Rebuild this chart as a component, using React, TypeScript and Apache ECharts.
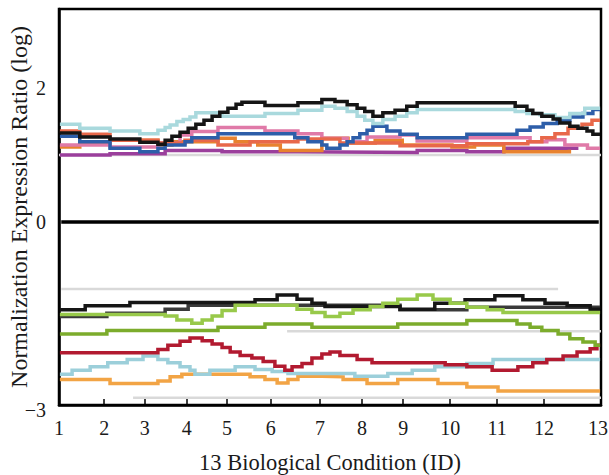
import React, { useEffect, useRef } from 'react';
import * as echarts from 'echarts';

// x axis: 13 biological conditions; ticks sit at slightly irregular places in the source figure
const conditionLabels = ['1', '2', '3', '4', '5', '6', '7', '8', '9', '10', '11', '12', '13'];
const conditionTickAt = [1, 2.0, 2.9, 3.83, 4.72, 5.69, 6.78, 7.71, 8.62, 9.66, 10.7, 11.74, 13];

// y axis labels (the bottom edge of the frame carries the −3 label in the source)
const yLabelValues = [-2.73, 0, 2];
const yLabelText = ['−3', '0', '2'];

type Pt = [number, number];

// ---- up-regulated cluster ----
const upperGray: Pt[] = [[1.0, 1.0], [13, 1.0]];
const upperPurple: Pt[] = [[1.02, 1.0], [2.13, 1.02], [3.35, 1.07], [4.61, 1.05], [6.29, 1.04], [8.93, 1.07], [10.03, 1.05], [10.85, 1.1], [12.5, 1.1]];
const upperOrange: Pt[] = [[1.02, 1.12], [1.46, 1.18], [2.13, 1.22], [3.19, 1.15], [3.5, 1.2], [4.52, 1.25], [4.9, 1.2], [5.4, 1.15], [5.9, 1.07], [6.82, 1.25], [7.4, 1.18], [8.0, 1.22], [8.6, 1.15], [9.7, 1.12], [10.2, 1.15], [10.85, 1.05], [12.3, 1.08]];
const upperPink: Pt[] = [[1.02, 1.15], [2.13, 1.12], [3.19, 1.18], [3.68, 1.3], [3.94, 1.35], [4.52, 1.41], [5.56, 1.36], [6.29, 1.32], [6.82, 1.25], [7.38, 1.2], [7.82, 1.27], [8.55, 1.3], [8.93, 1.21], [10.03, 1.26], [11.43, 1.2], [11.8, 1.23], [12.2, 1.15], [12.7, 1.1], [12.98, 1.1]];
const upperCoral: Pt[] = [[1.02, 1.36], [1.46, 1.31], [2.13, 1.22], [3.19, 1.18], [3.79, 1.22], [4.52, 1.15], [5.23, 1.2], [6.29, 1.24], [7.22, 1.18], [8.55, 1.14], [10.03, 1.17], [11.38, 1.2], [11.69, 1.26], [11.98, 1.32], [12.27, 1.4], [12.58, 1.46], [12.8, 1.52], [12.98, 1.52]];
const upperBlue: Pt[] = [[1.02, 1.28], [1.46, 1.2], [2.13, 1.1], [2.79, 1.05], [3.19, 1.1], [3.35, 1.15], [3.79, 1.2], [3.94, 1.26], [4.52, 1.32], [6.22, 1.26], [6.51, 1.2], [6.82, 1.15], [6.93, 1.1], [7.22, 1.15], [7.38, 1.2], [7.51, 1.26], [7.66, 1.32], [7.82, 1.37], [7.95, 1.43], [8.26, 1.36], [8.55, 1.31], [8.93, 1.26], [10.03, 1.31], [11.14, 1.37], [11.43, 1.42], [11.72, 1.47], [12.03, 1.52], [12.31, 1.57], [12.6, 1.62], [12.82, 1.68], [12.98, 1.68]];
const upperCyan: Pt[] = [[1.02, 1.46], [1.46, 1.4], [2.13, 1.36], [2.79, 1.32], [3.19, 1.37], [3.35, 1.41], [3.46, 1.45], [3.61, 1.5], [3.75, 1.53], [3.9, 1.57], [4.03, 1.63], [4.61, 1.58], [5.56, 1.62], [6.29, 1.67], [6.82, 1.73], [7.11, 1.7], [7.38, 1.65], [7.6, 1.58], [7.77, 1.52], [7.95, 1.47], [8.17, 1.53], [8.44, 1.58], [8.7, 1.63], [8.93, 1.68], [11.1, 1.65], [11.36, 1.62], [11.65, 1.6], [11.98, 1.56], [12.31, 1.62], [12.64, 1.7], [12.98, 1.7]];
const upperBlack: Pt[] = [[1.02, 1.33], [1.46, 1.27], [2.13, 1.24], [2.79, 1.19], [3.19, 1.16], [3.35, 1.22], [3.5, 1.28], [3.68, 1.34], [3.86, 1.4], [4.03, 1.46], [4.21, 1.52], [4.39, 1.58], [4.56, 1.64], [4.74, 1.7], [4.92, 1.76], [5.05, 1.79], [5.56, 1.74], [6.29, 1.78], [6.82, 1.83], [7.11, 1.8], [7.38, 1.75], [7.6, 1.7], [7.77, 1.65], [7.95, 1.58], [8.17, 1.63], [8.44, 1.67], [8.7, 1.73], [8.93, 1.78], [11.1, 1.73], [11.36, 1.67], [11.49, 1.62], [11.69, 1.58], [11.94, 1.54], [12.09, 1.48], [12.31, 1.43], [12.49, 1.4], [12.69, 1.36], [12.82, 1.31], [12.98, 1.31]];

// ---- baseline ----
const zeroLine: Pt[] = [[1.05, 0], [12.95, 0]];

// ---- down-regulated cluster ----
const lowerGrayA: Pt[] = [[1.05, -1.0], [12.05, -1.0]];
const lowerGrayB: Pt[] = [[6.05, -1.63], [13, -1.63]];
const lowerGrayC: Pt[] = [[2.64, -2.62], [13, -2.62]];
const lowerOrange: Pt[] = [[1.02, -2.35], [2.13, -2.41], [3.19, -2.37], [3.46, -2.31], [3.72, -2.27], [5.23, -2.31], [5.56, -2.35], [5.83, -2.4], [6.07, -2.35], [6.29, -2.3], [6.82, -2.31], [7.29, -2.35], [7.82, -2.41], [8.5, -2.35], [9.39, -2.41], [10.03, -2.46], [10.72, -2.52], [12.98, -2.52]];
const lowerLightBlue: Pt[] = [[1.02, -2.27], [1.29, -2.21], [1.69, -2.16], [2.08, -2.1], [2.51, -2.05], [2.86, -2.0], [3.19, -2.05], [3.41, -2.1], [3.68, -2.16], [3.9, -2.21], [4.01, -2.27], [4.34, -2.21], [4.9, -2.16], [5.34, -2.2], [5.72, -2.23], [6.07, -2.26], [7.55, -2.3], [8.28, -2.26], [8.82, -2.21], [9.32, -2.16], [10.03, -2.11], [10.61, -2.05], [12.98, -2.05]];
const lowerCrimson: Pt[] = [[1.02, -1.95], [3.19, -1.9], [3.41, -1.84], [3.68, -1.78], [3.9, -1.73], [4.17, -1.77], [4.39, -1.82], [4.61, -1.87], [4.79, -1.94], [5.01, -1.99], [5.27, -2.03], [5.52, -2.08], [5.78, -2.15], [6.0, -2.21], [6.16, -2.16], [6.38, -2.11], [6.6, -2.03], [6.82, -1.97], [7.0, -1.94], [7.22, -1.99], [7.6, -2.05], [7.93, -2.1], [9.55, -2.13], [10.03, -2.16], [10.59, -2.21], [11.16, -2.16], [11.49, -2.1], [11.8, -2.05], [12.16, -2.0], [12.47, -1.94], [12.76, -1.89], [12.91, -1.84], [12.98, -1.84]];
const lowerOlive: Pt[] = [[1.02, -1.67], [2.06, -1.62], [4.52, -1.57], [5.56, -1.52], [6.6, -1.57], [8.5, -1.52], [10.03, -1.47], [11.14, -1.52], [11.43, -1.57], [11.69, -1.62], [12.05, -1.67], [12.31, -1.74], [12.6, -1.79], [12.87, -1.84], [12.98, -1.84]];
const lowerLime: Pt[] = [[1.02, -1.38], [3.35, -1.4], [3.61, -1.46], [3.94, -1.51], [4.17, -1.46], [4.39, -1.4], [4.61, -1.32], [4.9, -1.24], [6.27, -1.3], [6.6, -1.35], [6.89, -1.41], [7.22, -1.36], [7.51, -1.31], [7.89, -1.26], [8.17, -1.21], [8.5, -1.15], [8.93, -1.09], [9.28, -1.15], [9.66, -1.21], [10.03, -1.27], [10.48, -1.31], [10.83, -1.35], [12.98, -1.35]];
const lowerDarkGray: Pt[] = [[1.02, -1.41], [2.06, -1.36], [3.35, -1.3], [3.86, -1.24], [8.55, -1.31], [10.03, -1.27], [12.98, -1.27]];
const lowerBlack: Pt[] = [[1.02, -1.31], [1.58, -1.25], [2.57, -1.2], [5.34, -1.16], [5.83, -1.09], [6.27, -1.15], [6.6, -1.21], [6.89, -1.26], [8.55, -1.3], [9.32, -1.21], [9.99, -1.16], [10.65, -1.1], [11.27, -1.16], [11.76, -1.21], [12.25, -1.25], [12.76, -1.3], [12.98, -1.3]];

const SERIF = '"Liberation Serif", "DejaVu Serif", "Times New Roman", serif';

type Def = { name: string; data: Pt[]; color: string; width: number; step: boolean };
const defs: Def[] = [
  { name: 'upper gray', data: upperGray, color: '#d9d9d9', width: 2.5, step: false },
  { name: 'lower gray a', data: lowerGrayA, color: '#d9d9d9', width: 2.5, step: false },
  { name: 'lower gray b', data: lowerGrayB, color: '#d9d9d9', width: 2.5, step: false },
  { name: 'lower gray c', data: lowerGrayC, color: '#d9d9d9', width: 2.5, step: false },
  { name: 'upper purple', data: upperPurple, color: '#9b3f9c', width: 3.5, step: true },
  { name: 'upper orange', data: upperOrange, color: '#e8822f', width: 3.5, step: true },
  { name: 'upper pink', data: upperPink, color: '#e07aa8', width: 3.5, step: true },
  { name: 'upper coral', data: upperCoral, color: '#e8684a', width: 3.5, step: true },
  { name: 'upper blue', data: upperBlue, color: '#2d5ea9', width: 3.5, step: true },
  { name: 'upper cyan', data: upperCyan, color: '#a9d9dd', width: 3.5, step: true },
  { name: 'upper black', data: upperBlack, color: '#151515', width: 3.5, step: true },
  { name: 'zero', data: zeroLine, color: '#000000', width: 3.5, step: false },
  { name: 'lower orange', data: lowerOrange, color: '#f2a445', width: 3.5, step: true },
  { name: 'lower light blue', data: lowerLightBlue, color: '#9ccfda', width: 3.5, step: true },
  { name: 'lower crimson', data: lowerCrimson, color: '#b21a30', width: 3.5, step: true },
  { name: 'lower olive', data: lowerOlive, color: '#7cac2c', width: 3.5, step: true },
  { name: 'lower dark gray', data: lowerDarkGray, color: '#3a3a3a', width: 3.5, step: true },
  { name: 'lower black', data: lowerBlack, color: '#161616', width: 3.5, step: true },
  { name: 'lower lime', data: lowerLime, color: '#98c94a', width: 3.5, step: true },
];

function findIndex(values: number[], v: number): number {
  for (let i = 0; i < values.length; i++) {
    if (Math.abs(values[i] - v) < 1e-6) return i;
  }
  return -1;
}

export default function App() {
  const ref = useRef<HTMLDivElement>(null);
  useEffect(() => {
    if (!ref.current) return;
    const chart = echarts.init(ref.current, null, { renderer: 'svg' });
    const labelStyle = { color: '#1a1a1a', fontFamily: SERIF, fontSize: 20 };
    const option: any = {
      animation: false,
      grid: {
        left: 59, right: 8, top: 9, bottom: 70,
        containLabel: false, outerBoundsMode: 'none',
        show: true, borderColor: '#000', borderWidth: 2.5, backgroundColor: 'transparent',
      },
      xAxis: {
        type: 'value',
        min: 1,
        max: 13,
        axisLine: { show: true, onZero: false, lineStyle: { color: '#000', width: 2.5 } },
        axisTick: { show: true, inside: true, length: 6, customValues: conditionTickAt, lineStyle: { color: '#000', width: 1.5 } },
        axisLabel: {
          customValues: conditionTickAt,
          formatter: (v: number) => {
            const i = findIndex(conditionTickAt, v);
            if (i < 0) return '';
            return i === conditionLabels.length - 1 ? '{last|' + conditionLabels[i] + '}' : conditionLabels[i];
          },
          ...labelStyle,
          margin: 13,
          rich: { last: { ...labelStyle, padding: [0, 6, 0, 0] } },
        },
        splitLine: { show: false },
        name: '13 Biological Condition (ID)',
        nameLocation: 'middle',
        nameGap: 46,
        nameMoveOverlap: false,
        nameTextStyle: { color: '#1a1a1a', fontFamily: SERIF, fontSize: 22.5 },
      },
      yAxis: {
        type: 'value',
        min: -2.73,
        max: 3.18,
        axisLine: { show: true, onZero: false, lineStyle: { color: '#000', width: 2.5 } },
        axisTick: { show: false },
        axisLabel: {
          customValues: yLabelValues,
          formatter: (v: number) => {
            const i = findIndex(yLabelValues, v);
            if (i < 0) return '';
            return i === 0 ? '{low|' + yLabelText[i] + '}' : yLabelText[i];
          },
          ...labelStyle,
          margin: 13,
          rich: { low: { ...labelStyle, padding: [10, 0, 0, 0] } },
        },
        splitLine: { show: false },
        name: 'Normalization Expression Ratio (log)',
        nameLocation: 'middle',
        nameGap: 28,
        nameMoveOverlap: false,
        nameTextStyle: { color: '#1a1a1a', fontFamily: SERIF, fontSize: 24 },
      },
      series: defs.map((d) => ({
        name: d.name,
        type: 'line',
        data: d.data,
        step: d.step ? 'end' : false,
        showSymbol: false,
        silent: true,
        lineStyle: { color: d.color, width: d.width, cap: 'butt', join: 'miter' },
      })),
    };
    chart.setOption(option);
    return () => chart.dispose();
  }, []);
  return <div ref={ref} style={{ position: 'absolute', left: 0, top: 0, width: 609, height: 475 }} />;
}
